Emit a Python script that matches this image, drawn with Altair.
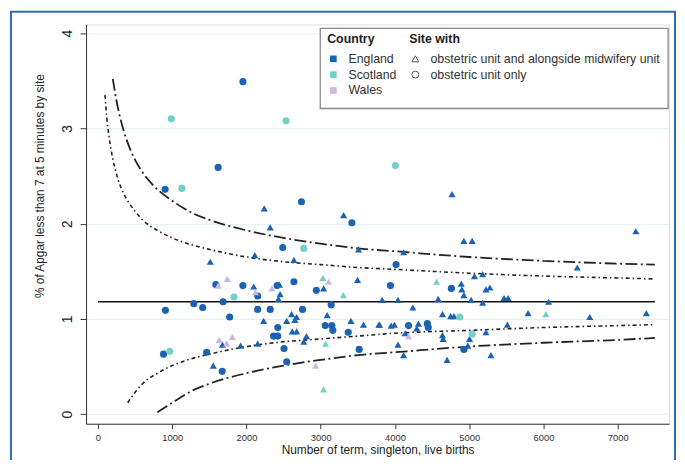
import altair as alt
import pandas as pd

# ---- data ----
eng_circ_x = [1953, 1619, 905, 2741, 3420, 2489, 1588, 1952, 2413, 2639, 2151, 2941, 3141, 909, 1291,
              1411, 1686, 1774, 2151, 2320, 2755, 2422, 2365, 2422, 3061, 3150, 3163, 3371, 2506, 3518,
              883, 1464, 1673, 2542, 4015, 3939, 4760, 4183, 4436, 4449, 4928]
eng_circ_y = [3.49, 2.59, 2.36, 2.23, 2.01, 1.75, 1.36, 1.35, 1.35, 1.39, 1.24, 1.30, 1.15, 1.09, 1.16,
              1.12, 1.18, 1.02, 1.10, 1.10, 1.10, 0.91, 0.82, 0.82, 0.93, 0.93, 0.88, 0.86, 0.69, 0.68,
              0.63, 0.65, 0.45, 0.55, 1.57, 1.35, 1.32, 0.93, 0.95, 0.91, 0.68]

eng_tri_x = [2240, 2320, 3309, 3509, 2112, 1513, 2639, 2098, 2444, 2453, 2431, 3039, 3496, 3828, 2231,
             2542, 2608, 2675, 2652, 2617, 2675, 2808, 2772, 3087, 3407, 3576, 3784, 1677, 1921, 2151,
             1553, 4768, 4928, 5040, 7244, 4117, 6455, 5071, 5181, 4893, 4901, 4928, 5226, 5279, 4041,
             4582, 5026, 5181, 5470, 5523, 6069, 4241, 4640, 4751, 4795, 5793, 6624, 7386, 3793, 3948,
             3992, 4316, 4294, 4139, 4640, 4649, 5514, 5226, 5004, 4981, 4041, 4117, 4702, 5293]
eng_tri_y = [2.16, 1.96, 2.09, 1.73, 1.67, 1.60, 1.62, 1.34, 1.36, 1.26, 1.21, 1.32, 1.41, 1.20, 0.98,
             0.98, 1.05, 1.02, 0.99, 0.87, 0.87, 0.82, 0.76, 1.04, 0.98, 0.94, 0.94, 0.73, 0.72, 0.74,
             0.51, 2.31, 1.82, 1.82, 1.92, 1.70, 1.54, 1.45, 1.47, 1.37, 1.31, 1.25, 1.31, 1.33, 1.20,
             1.21, 1.20, 1.17, 1.22, 1.22, 1.18, 1.12, 1.05, 1.03, 1.03, 1.06, 1.02, 1.06, 0.94, 0.93,
             0.94, 0.95, 0.90, 0.85, 0.83, 0.79, 0.94, 0.86, 0.79, 0.72, 0.73, 0.62, 0.57, 0.62]

sco_circ_x = [989, 2533, 1131, 2772, 1832, 967, 4006, 4871, 5040]
sco_circ_y = [3.10, 3.08, 2.37, 1.74, 1.23, 0.66, 2.61, 1.02, 0.84]
sco_tri_x = [3030, 3305, 3065, 3039, 4561, 6033]
sco_tri_y = [1.43, 1.25, 0.74, 0.26, 1.39, 1.05]

wal_tri_x = [1743, 1619, 2342, 2121, 3105, 1633, 1734, 1810, 2932, 4183]
wal_tri_y = [1.42, 1.35, 1.32, 1.28, 1.39, 0.78, 0.74, 0.81, 0.51, 0.82]

mean_x = [0, 7500]
mean_y = [1.18, 1.18]

inner_upper_x = [95, 120, 150, 200, 250, 300, 400, 500, 600, 800, 1000, 1250, 1500, 2000, 2500, 3000,
                 3500, 4000, 5000, 6000, 7000, 7500]
inner_upper_y = [3.35, 3.11, 2.91, 2.68, 2.52, 2.40, 2.24, 2.13, 2.04, 1.93, 1.85, 1.78, 1.73, 1.65,
                 1.60, 1.57, 1.54, 1.52, 1.48, 1.45, 1.43, 1.42]
inner_lower_x = [400, 500, 600, 800, 1000, 1250, 1500, 2000, 2500, 3000, 3500, 4000, 5000, 6000, 7000, 7500]
inner_lower_y = [0.12, 0.23, 0.32, 0.43, 0.51, 0.58, 0.63, 0.71, 0.76, 0.79, 0.82, 0.85, 0.88, 0.91, 0.93, 0.94]
outer_upper_x = [200, 250, 300, 400, 500, 600, 800, 1000, 1250, 1500, 2000, 2500, 3000, 3500, 4000,
                 5000, 6000, 7000, 7500]
outer_upper_y = [3.52, 3.29, 3.11, 2.85, 2.67, 2.54, 2.36, 2.24, 2.12, 2.04, 1.93, 1.85, 1.79, 1.74,
                 1.71, 1.65, 1.61, 1.58, 1.57]
outer_lower_x = [800, 900, 1000, 1250, 1500, 2000, 2500, 3000, 3500, 4000, 5000, 6000, 7000, 7500]
outer_lower_y = [0.02, 0.07, 0.12, 0.24, 0.32, 0.43, 0.51, 0.57, 0.62, 0.65, 0.71, 0.75, 0.78, 0.80]

x_ticks = [0, 1000, 2000, 3000, 4000, 5000, 6000, 7000]
y_ticks = [0, 1, 2, 3, 4]

countries = ["England", "Scotland", "Wales"]
country_colors = ["#1b62b3", "#74d0c7", "#cbb6e2"]
sites = ["obstetric unit and alongside midwifery unit", "obstetric unit only"]

# ---- tables ----
rows = []
def add(xs, ys, country, site):
    for a, b in zip(xs, ys):
        rows.append({"x": a, "y": b, "Country": country, "Site": site})

add(eng_circ_x, eng_circ_y, "England", sites[1])
add(eng_tri_x, eng_tri_y, "England", sites[0])
add(sco_circ_x, sco_circ_y, "Scotland", sites[1])
add(sco_tri_x, sco_tri_y, "Scotland", sites[0])
add(wal_tri_x, wal_tri_y, "Wales", sites[0])
pts = pd.DataFrame(rows)

def curve(xs, ys, name):
    return pd.DataFrame({"x": xs, "y": ys, "curve": name})

inner = pd.concat([curve(inner_upper_x, inner_upper_y, "up"), curve(inner_lower_x, inner_lower_y, "lo")])
outer = pd.concat([curve(outer_upper_x, outer_upper_y, "up"), curve(outer_lower_x, outer_lower_y, "lo")])
mean = pd.DataFrame({"x": mean_x, "y": mean_y})

W, H = 590, 404
xsc = alt.Scale(domain=[-160, 7692], nice=False, zero=False)
ysc = alt.Scale(domain=[-0.10, 4.09], nice=False, zero=False)

X = alt.X("x:Q", scale=xsc, axis=alt.Axis(
    values=x_ticks, format="d", title="Number of term, singleton, live births", grid=False,
    labelFontSize=9.5, labelColor="#333", tickSize=5, labelPadding=4, tickColor="#333",
    domainColor="#333", titleFontSize=12, titleFontWeight="normal", titleColor="#222",
    titleY=21, labelFlush=False))
Y = alt.Y("y:Q", scale=ysc, axis=alt.Axis(
    values=y_ticks, format="d", title="% of Apgar less than 7 at 5 minutes by site", grid=True,
    gridColor="#e0eff7", labelAngle=270, labelAlign="center", labelBaseline="bottom",
    labelFontSize=14, labelColor="#1a1a1a", tickSize=6, labelPadding=6, tickColor="#333",
    domainColor="#333", titleFontSize=12, titleFontWeight="normal", titleColor="#222",
    titleAngle=270, titleX=-40, titleY=163, titleAlign="center", titleBaseline="bottom",
    labelFlush=False))

one = alt.Data(values=[{}])

frame = alt.Chart(one).mark_rect(fillOpacity=0, stroke="#2d6cb4", strokeWidth=2).encode(
    x=alt.value(-76), x2=alt.value(596), y=alt.value(-13), y2=alt.value(H + 60))

mean_line = alt.Chart(mean).mark_line(color="#111", strokeWidth=1.6).encode(x=X, y=Y)

inner_l = alt.Chart(inner).mark_line(color="#222", strokeWidth=1.6, strokeDash=[4, 3, 1.5, 3],
                                     interpolate="monotone").encode(
    x=alt.X("x:Q", scale=xsc), y=alt.Y("y:Q", scale=ysc), detail="curve:N")
outer_l = alt.Chart(outer).mark_line(color="#222", strokeWidth=1.8, strokeDash=[12, 3.5, 2, 3.5],
                                     interpolate="monotone").encode(
    x=alt.X("x:Q", scale=xsc), y=alt.Y("y:Q", scale=ysc), detail="curve:N")

points = alt.Chart(pts).mark_point(filled=True, opacity=1, size=52).encode(
    x=alt.X("x:Q", scale=xsc),
    y=alt.Y("y:Q", scale=ysc),
    color=alt.Color("Country:N", scale=alt.Scale(domain=countries, range=country_colors),
                    legend=alt.Legend(title="Country", orient="none", legendX=244, legendY=9,
                                      symbolType="square", symbolSize=45, symbolStrokeWidth=0,
                                      labelFontSize=12.5, titleFontSize=12.5, titleFontWeight="bold",
                                      titleColor="#222", labelColor="#333", padding=0, rowPadding=3,
                                      titlePadding=7, labelOffset=9, labelLimit=300)),
    shape=alt.Shape("Site:N", scale=alt.Scale(domain=sites, range=["triangle-up", "circle"]),
                    legend=alt.Legend(title="Site with", orient="none", legendX=327, legendY=9,
                                      symbolFillColor="white", symbolStrokeColor="#555",
                                      symbolStrokeWidth=1, symbolSize=50,
                                      labelFontSize=12.5, titleFontSize=12.5, titleFontWeight="bold",
                                      titleColor="#222", labelColor="#333", padding=0, rowPadding=3,
                                      titlePadding=7, labelOffset=9, labelLimit=400)),
)

legend_box = alt.Chart(one).mark_rect(fill="white", stroke="#8a8a8a", strokeWidth=1.3).encode(
    x=alt.value(237), x2=alt.value(589), y=alt.value(4), y2=alt.value(85))

chart = alt.layer(frame, mean_line, inner_l, outer_l, points, legend_box).resolve_scale(
    color="independent", shape="independent").properties(
    width=W, height=H,
    autosize=alt.AutoSizeParams(type="none"),
    padding={"left": 79, "top": 14, "right": 8, "bottom": 34},
    background="white",
).configure_view(stroke=None).configure(font="Liberation Sans")

chart.save("out.html", embed_options={"renderer": "svg", "actions": False})
